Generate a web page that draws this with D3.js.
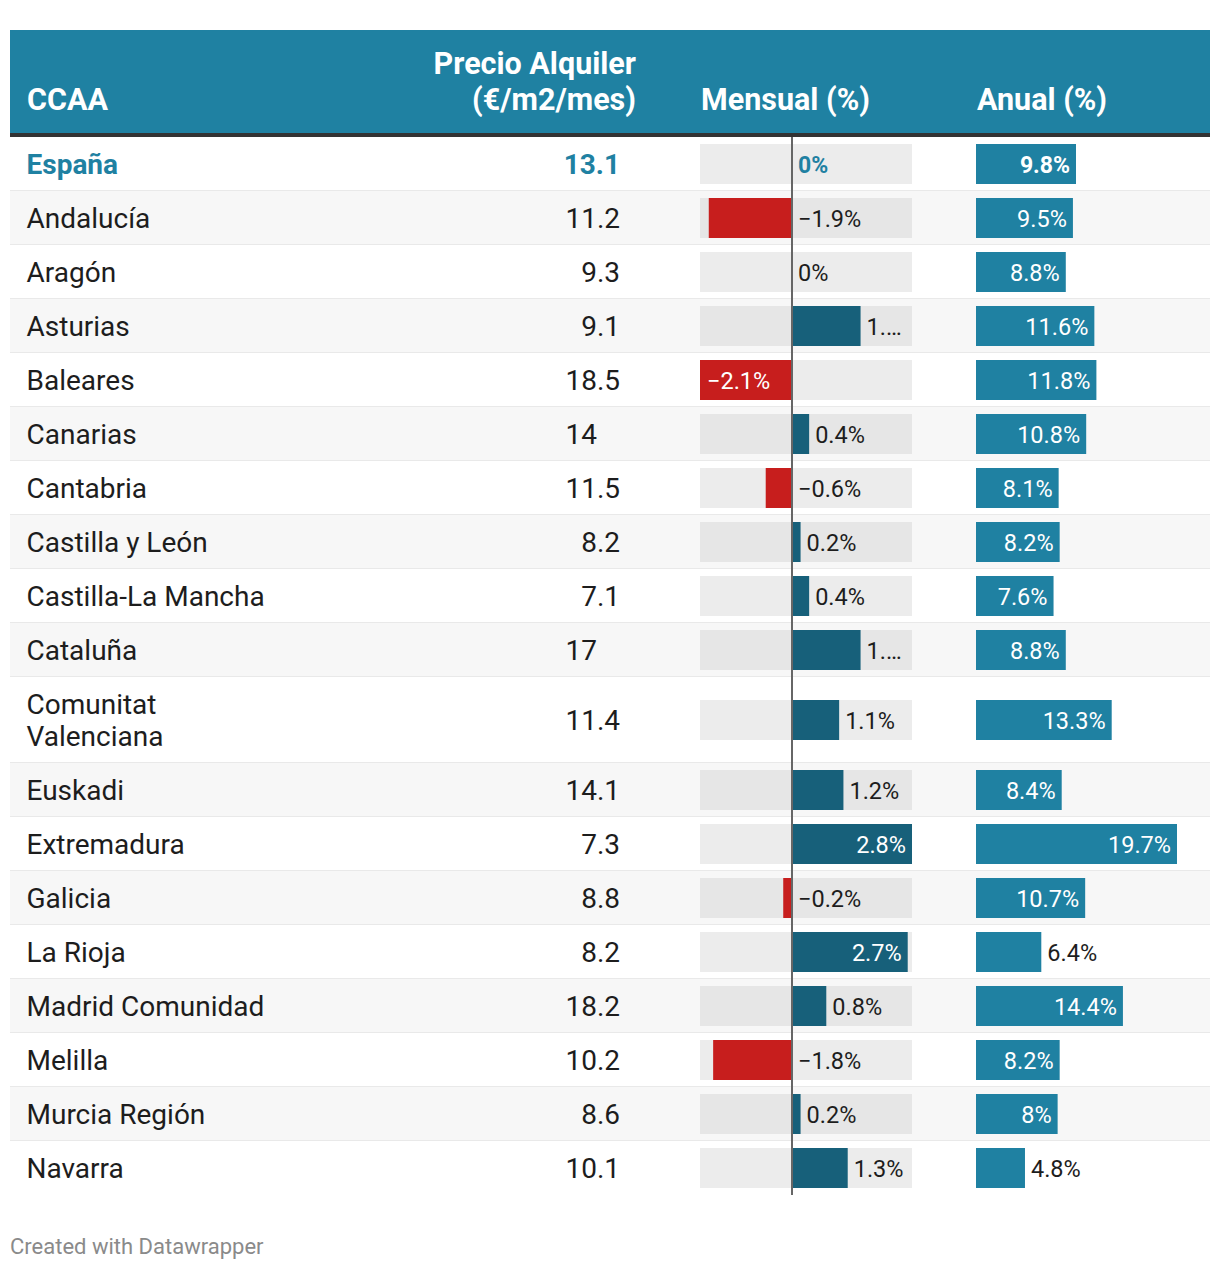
<!DOCTYPE html>
<html>
<head>
<meta charset="utf-8">
<script src="https://cdn.jsdelivr.net/npm/d3@7"></script>
<style>
  html, body { margin: 0; padding: 0; background: #ffffff; }
  svg { display: block; font-family: Roboto, "Noto Sans", sans-serif; }
</style>
</head>
<body>
<svg id="chart" width="1220" height="1270"></svg>
<script>
// ---- data ----
const ccaa = ["España", "Andalucía", "Aragón", "Asturias", "Baleares", "Canarias", "Cantabria",
  "Castilla y León", "Castilla-La Mancha", "Cataluña", "Comunitat Valenciana", "Euskadi",
  "Extremadura", "Galicia", "La Rioja", "Madrid Comunidad", "Melilla", "Murcia Región", "Navarra"];
const precio = [13.1, 11.2, 9.3, 9.1, 18.5, 14, 11.5, 8.2, 7.1, 17, 11.4, 14.1, 7.3, 8.8, 8.2, 18.2, 10.2, 8.6, 10.1];
const mensual = [0, -1.9, 0, 1.6, -2.1, 0.4, -0.6, 0.2, 0.4, 1.6, 1.1, 1.2, 2.8, -0.2, 2.7, 0.8, -1.8, 0.2, 1.3];
const anual = [9.8, 9.5, 8.8, 11.6, 11.8, 10.8, 8.1, 8.2, 7.6, 8.8, 13.3, 8.4, 19.7, 10.7, 6.4, 14.4, 8.2, 8, 4.8];
const headers = [["CCAA"], ["Precio Alquiler", "(€/m2/mes)"], ["Mensual (%)"], ["Anual (%)"]];
const footer = "Created with Datawrapper";

// ---- style ----
const C = {
  header: "#1f81a2", border: "#333333", text: "#1d1d1d", stripe: "#f7f7f7",
  sep: "#e9e9e9", bgBar: "#ececec", bgBarStripe: "#e6e6e6",
  pos: "#17607a", neg: "#c71e1d", anual: "#1f81a2", zero: "#666666", foot: "#8a8a8a"
};
const left = 10, right = 1210;
const headTop = 30, headBottom = 133, borderH = 4;
const rowH = 54, lineH = 32, barH = 40;
const fs = 28, fsHead = 30.5, fsBar = 23.5, fsTotBar = 23;

const svg = d3.select("#chart");
const fmtPct = v => (v < 0 ? "−" : "") + d3.format("")(Math.abs(v)) + "%";

// measure helper
const measurer = svg.append("text").attr("visibility", "hidden");
function textW(str, size, weight) {
  measurer.attr("font-size", size).attr("font-weight", weight || 400).text(str);
  return measurer.node().getComputedTextLength();
}

// wrap names
const nameMax = 255;
function wrap(name) {
  if (textW(name, fs) <= nameMax) return [name];
  const words = name.split(" "); const lines = []; let cur = "";
  words.forEach(w => {
    const t = cur ? cur + " " + w : w;
    if (textW(t, fs) > nameMax && cur) { lines.push(cur); cur = w; } else cur = t;
  });
  lines.push(cur);
  return lines;
}

const rows = ccaa.map((name, i) => ({
  name, lines: wrap(name), precio: precio[i], mensual: mensual[i], anual: anual[i], i
}));
let y0 = headBottom + borderH;
rows.forEach(r => {
  r.h = rowH + (r.lines.length - 1) * lineH;
  r.top = y0; r.cy = y0 + r.h / 2; y0 += r.h;
});
const tableBottom = y0;

// ---- scales ----
const bgX0 = 700, bgX1 = 912;
const xM = d3.scaleLinear().domain([d3.min(mensual), 0, d3.max(mensual)]).range([bgX0, 792, bgX1]);
const xA = d3.scaleLinear().domain([0, d3.max(anual)]).range([976, 1177]);
const priceRight = 620;

// ---- header ----
svg.append("rect").attr("x", left).attr("y", headTop).attr("width", right - left)
  .attr("height", headBottom - headTop).attr("fill", C.header);
svg.append("rect").attr("x", left).attr("y", headBottom).attr("width", right - left)
  .attr("height", borderH).attr("fill", C.border);
const headCols = [
  { x: 27, anchor: "start" }, { x: 636, anchor: "end" },
  { x: 701, anchor: "start" }, { x: 977, anchor: "start" }
];
headers.forEach((lines, j) => {
  const t = svg.append("text").attr("x", headCols[j].x).attr("text-anchor", headCols[j].anchor)
    .attr("fill", "#ffffff").attr("font-weight", 700).attr("font-size", fsHead);
  lines.forEach((ln, k) => {
    t.append("tspan").attr("x", headCols[j].x)
      .attr("y", 110 - (lines.length - 1 - k) * 36).text(ln);
  });
});

// ---- rows ----
const rg = svg.append("g").selectAll("g.row").data(rows).join("g").attr("class", "row");

rg.append("rect").attr("x", left).attr("y", d => d.top).attr("width", right - left)
  .attr("height", d => d.h).attr("fill", d => d.i % 2 === 1 ? C.stripe : "#ffffff");
rg.filter(d => d.i < rows.length - 1).append("rect").attr("x", left).attr("y", d => d.top + d.h - 1)
  .attr("width", right - left).attr("height", 2).attr("fill", C.sep);

// names + prices
rg.each(function (d) {
  const sel = d3.select(this);
  const isTot = d.i === 0;
  const t = sel.append("text").attr("font-size", fs)
    .attr("font-weight", isTot ? 700 : 400)
    .attr("fill", isTot ? C.header : C.text);
  const n = d.lines.length;
  d.lines.forEach((ln, k) => {
    t.append("tspan").attr("x", 26.5)
      .attr("y", d.cy + 10 + (k - (n - 1) / 2) * lineH).text(ln);
  });
  const p = sel.append("text").attr("font-size", fs).attr("text-anchor", "end")
    .attr("x", priceRight).attr("y", d.cy + 10)
    .attr("font-weight", isTot ? 700 : 400).attr("fill", isTot ? C.header : C.text);
  const s = String(d.precio);
  if (s.indexOf(".") >= 0) p.text(s);
  else { p.append("tspan").text(s); p.append("tspan").attr("fill-opacity", 0).text(".0"); }
});

// mensual bars
const x0 = xM(0);
rg.append("rect").attr("x", bgX0).attr("y", d => d.cy - barH / 2)
  .attr("width", bgX1 - bgX0).attr("height", barH)
  .attr("fill", d => d.i % 2 === 1 ? C.bgBarStripe : C.bgBar);
rg.append("rect").attr("x", d => Math.min(xM(d.mensual), x0)).attr("y", d => d.cy - barH / 2)
  .attr("width", d => Math.abs(xM(d.mensual) - x0))
  .attr("height", barH)
  .attr("fill", d => d.mensual < 0 ? C.neg : C.pos);

rg.each(function (d) {
  const sel = d3.select(this);
  const isTot = d.i === 0;
  const size = isTot ? fsTotBar : fsBar;
  const label = fmtPct(d.mensual);
  const barLen = Math.abs(xM(d.mensual) - x0);
  const sideLen = d.mensual < 0 ? x0 - bgX0 : bgX1 - x0;
  const t = sel.append("text").attr("font-size", size).attr("y", d.cy + 8.5)
    .attr("font-weight", isTot ? 700 : 400);
  if (d.mensual !== 0 && barLen > 0.95 * sideLen) {
    if (d.mensual < 0) t.attr("x", xM(d.mensual) + 7).attr("text-anchor", "start");
    else t.attr("x", xM(d.mensual) - 6).attr("text-anchor", "end");
    t.attr("fill", "#ffffff").text(label);
  } else {
    const start = (d.mensual > 0 ? xM(d.mensual) : x0) + 6;
    const avail = bgX1 - start - 3;
    let str = label;
    if (textW(str, size) > avail) {
      let k = str.length - 1;
      while (k > 0 && textW(str.slice(0, k) + "…", size) > avail) k--;
      str = str.slice(0, k) + "…";
    }
    t.attr("x", start).attr("fill", isTot ? C.header : C.text).text(str);
  }
});

// anual bars
rg.append("rect").attr("x", xA(0)).attr("y", d => d.cy - barH / 2)
  .attr("width", d => xA(d.anual) - xA(0)).attr("height", barH).attr("fill", C.anual);
rg.each(function (d) {
  const isTot = d.i === 0;
  const w = xA(d.anual) - xA(0);
  const t = d3.select(this).append("text").attr("font-size", isTot ? fsTotBar : fsBar)
    .attr("y", d.cy + 8.5).attr("font-weight", isTot ? 700 : 400).text(fmtPct(d.anual));
  if (w > 70) t.attr("x", xA(d.anual) - 6).attr("text-anchor", "end").attr("fill", "#ffffff");
  else t.attr("x", xA(d.anual) + 6).attr("fill", C.text);
});

// zero line
svg.append("line").attr("x1", x0).attr("x2", x0).attr("y1", headBottom + borderH)
  .attr("y2", tableBottom).attr("stroke", C.zero).attr("stroke-width", 2);

// footer
svg.append("text").attr("x", 10).attr("y", 1254).attr("font-size", 22)
  .attr("fill", C.foot).text(footer);
measurer.remove();
</script>
</body>
</html>
